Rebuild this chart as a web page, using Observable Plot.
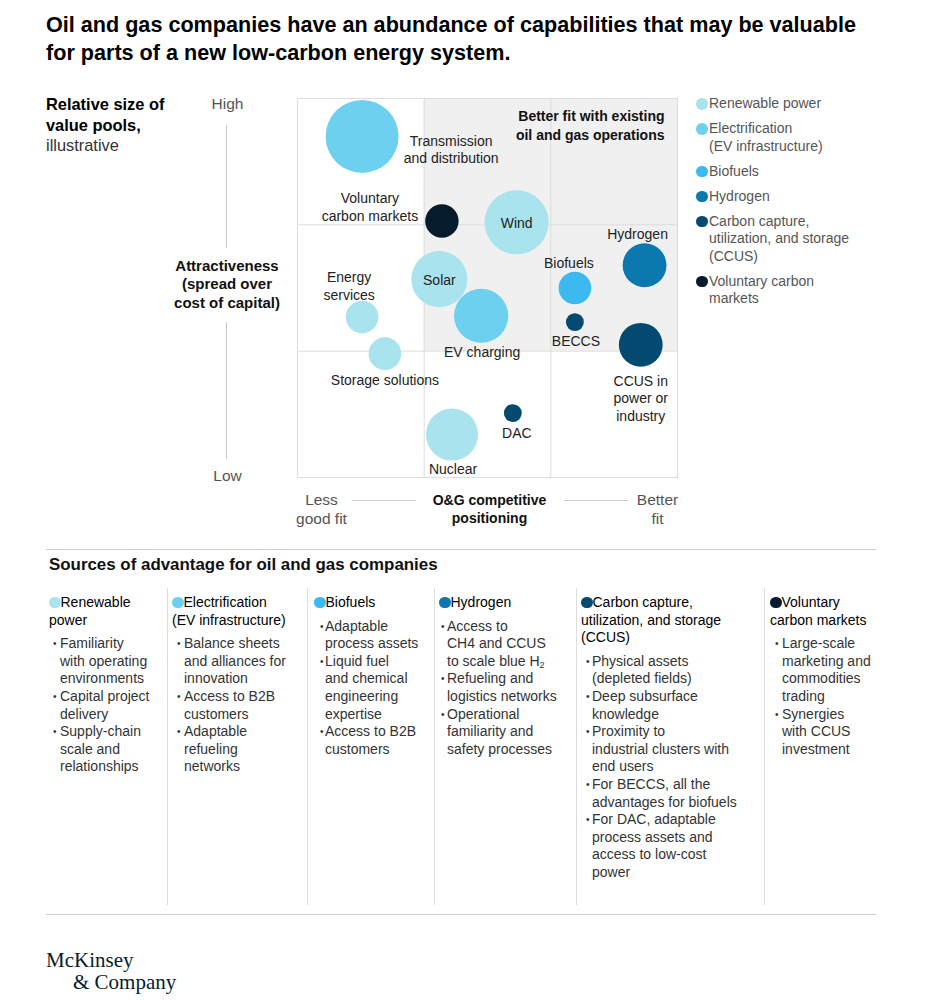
<!DOCTYPE html>
<html><head><meta charset="utf-8">
<script src="https://cdn.jsdelivr.net/npm/d3@7"></script>
<script src="https://cdn.jsdelivr.net/npm/@observablehq/plot@0.6"></script>
<style>
body{margin:0;background:#fff;font-family:"Liberation Sans",Arial,sans-serif;color:#222;}
#page{position:relative;width:936px;height:1000px;overflow:hidden;background:#fff;}
.abs{position:absolute;white-space:nowrap;}
#title{left:46px;top:11px;font-size:21.6px;font-weight:bold;line-height:28px;color:#000;}
#sizeNote{left:46px;top:94px;font-size:16.4px;line-height:20.5px;color:#000;}
#sizeNote b{font-weight:bold;}
#sizeNote span{color:#333;}
.vline{position:absolute;left:226px;width:1px;background:#c8c8c8;}
.hline{position:absolute;top:500px;height:1px;background:#ccc;}
#attr{left:147px;width:160px;top:256.5px;text-align:center;font-size:15px;font-weight:bold;line-height:18.5px;color:#111;}
#chart{position:absolute;left:0;top:80px;}
#legend{position:absolute;left:696px;top:95px;font-size:14px;line-height:17.5px;color:#555;}
.li{position:relative;padding-left:13px;margin-bottom:7.5px;white-space:nowrap;}
.li i{position:absolute;left:0;top:3px;width:11.5px;height:11.5px;border-radius:50%;}
#rule1{position:absolute;left:46px;top:549px;width:830px;height:1px;background:#ccc;}
#rule2{position:absolute;left:46px;top:914px;width:830px;height:1px;background:#ccc;}
#sources{left:49px;top:555px;font-size:16.9px;font-weight:bold;line-height:20px;color:#111;}
.col{position:absolute;top:588px;height:317px;box-sizing:border-box;padding-top:6px;font-size:14px;line-height:17.6px;}
.col.sep{border-left:1px solid #ddd;}
.hd{color:#000;white-space:nowrap;}
.hd i{display:inline-block;width:11.5px;height:11.5px;border-radius:50%;vertical-align:-1px;}
.bl{margin-top:6px;color:#333;}
.b{position:relative;white-space:nowrap;}
.b span.dot{position:absolute;font-size:10px;color:#333;}
sub{font-size:9px;vertical-align:-2px;line-height:0;}
#logo{left:46px;top:950px;font-family:"Liberation Serif","Times New Roman",serif;font-size:21px;line-height:21.5px;color:#051C2C;}
#logo div+div{padding-left:27px;}
</style></head>
<body><div id="page">
<div id="title" class="abs">Oil and gas companies have an abundance of capabilities that may be valuable<br>for parts of a new low-carbon energy system.</div>
<div id="sizeNote" class="abs"><b>Relative size of<br>value pools,</b><br><span>illustrative</span></div>
<div class="vline" style="top:125px;height:123px"></div>
<div class="vline" style="top:322px;height:137px"></div>
<div id="attr" class="abs">Attractiveness<br>(spread over<br>cost of capital)</div>
<div class="hline" style="left:352px;width:64px"></div>
<div class="hline" style="left:564px;width:64px"></div>
<div id="chart"></div>
<div id="legend"></div>
<div id="rule1"></div>
<div id="sources" class="abs">Sources of advantage for oil and gas companies</div>
<div id="cols"></div>
<div id="rule2"></div>
<div id="logo" class="abs"><div>McKinsey</div><div>&amp; Company</div></div>
</div>
<script>
// ---- Categories (legend) ----
const categories = ["Renewable power", "Electrification\n(EV infrastructure)", "Biofuels", "Hydrogen", "Carbon capture,\nutilization, and storage\n(CCUS)", "Voluntary carbon\nmarkets"];
const categoryColors = ["#A9E3EE", "#6ED0EF", "#3CB9F0", "#0B78B0", "#044A70", "#061C2C"];

// ---- Opportunities (bubbles) ----
const opportunities = ["Transmission\nand distribution", "Voluntary\ncarbon markets", "Wind", "Hydrogen", "Solar", "Biofuels", "EV charging", "Energy\nservices", "BECCS", "CCUS in\npower or\nindustry", "Storage solutions", "DAC", "Nuclear"];
const opportunityCategory = [1, 5, 0, 3, 0, 2, 1, 0, 4, 4, 0, 4, 0];
const competitivePositioning = [0.51, 1.14, 1.73, 2.74, 1.12, 2.19, 1.45, 0.51, 2.19, 2.71, 0.69, 1.70, 1.22]; // 0 = less good fit, 3 = better fit
const attractiveness = [2.70, 2.03, 2.02, 1.68, 1.57, 1.50, 1.28, 1.27, 1.23, 1.05, 0.98, 0.51, 0.34]; // 0 = low, 3 = high
const valuePoolSize = [100, 21, 77, 36, 59, 20, 55, 20, 6, 36, 20, 6, 51]; // relative, illustrative

// ---- Zone & tick labels ----
const betterFitZone = [{x1: 1, x2: 3, y1: 1, y2: 3, label: "Better fit with existing\noil and gas operations"}];
const gridBreaks = [1, 2];
const yTickLabels = ["Low", "High"];
const xTickLabels = ["Less\ngood fit", "Better\nfit"];
const xAxisTitle = "O&G competitive\npositioning";

// ---- Sources of advantage ----
const advantageHeaders = ["Renewable\npower", "Electrification\n(EV infrastructure)", "Biofuels", "Hydrogen", "Carbon capture,\nutilization, and storage\n(CCUS)", "Voluntary\ncarbon markets"];
const advantageBullets = [
  ["Familiarity\nwith operating\nenvironments", "Capital project\ndelivery", "Supply-chain\nscale and\nrelationships"],
  ["Balance sheets\nand alliances for\ninnovation", "Access to B2B\ncustomers", "Adaptable\nrefueling\nnetworks"],
  ["Adaptable\nprocess assets", "Liquid fuel\nand chemical\nengineering\nexpertise", "Access to B2B\ncustomers"],
  ["Access to\nCH4 and CCUS\nto scale blue H\u2082", "Refueling and\nlogistics networks", "Operational\nfamiliarity and\nsafety processes"],
  ["Physical assets\n(depleted fields)", "Deep subsurface\nknowledge", "Proximity to\nindustrial clusters with\nend users", "For BECCS, all the\nadvantages for biofuels", "For DAC, adaptable\nprocess assets and\naccess to low-cost\npower"],
  ["Large-scale\nmarketing and\ncommodities\ntrading", "Synergies\nwith CCUS\ninvestment"]
];

// ---- Label placement (style only: pixel offsets from bubble centre) ----
const labelOffsets = [[89, 12.5], [-72, -14.5], [0, 0], [-7, -32], [0, 0], [-6, -26], [1, 35.5], [-13, -31.5], [1, 18], [0, 53], [0, 26], [4, 19], [1, 34]];

const points = opportunities.map((name, i) => ({
  name,
  category: categories[opportunityCategory[i]],
  x: competitivePositioning[i],
  y: attractiveness[i],
  size: valuePoolSize[i]
}));

const labelMarks = points.map((p, i) => Plot.text([p], {
  x: "x", y: "y", text: "name",
  dx: labelOffsets[i][0], dy: labelOffsets[i][1],
  fontSize: 14, fill: "#222", lineHeight: 1.25
}));

const chart = Plot.plot({
  width: 936, height: 460,
  marginLeft: 297, marginRight: 259, marginTop: 18, marginBottom: 63,
  style: {fontFamily: "'Liberation Sans', Arial, sans-serif", fontSize: "14px", color: "#222", background: "transparent", overflow: "visible"},
  x: {domain: [0, 3], axis: null},
  y: {domain: [0, 3], axis: null},
  r: {domain: [0, 100], range: [0, 36.5]},
  color: {domain: categories, range: categoryColors},
  marks: [
    Plot.rect(betterFitZone, {x1: "x1", x2: "x2", y1: "y1", y2: "y2", fill: "#f0f0f0"}),
    Plot.gridX(gridBreaks, {stroke: "#dcdcdc", strokeOpacity: 1}),
    Plot.gridY(gridBreaks, {stroke: "#dcdcdc", strokeOpacity: 1}),
    Plot.frame({stroke: "#dcdcdc"}),
    Plot.text(betterFitZone, {text: "label", frameAnchor: "top-right", dx: -13, dy: 10, textAnchor: "end", lineAnchor: "top", fontWeight: "bold", fontSize: 14, fill: "#111", lineHeight: 1.3}),
    Plot.dot(points, {x: "x", y: "y", r: "size", fill: "category"}),
    ...labelMarks,
    Plot.axisY([3], {tickSize: 0, tickFormat: () => yTickLabels[1], textAnchor: "middle", dx: -61, dy: 6, fontSize: 15.5, color: "#555", label: null}),
    Plot.axisY([0], {tickSize: 0, tickFormat: () => yTickLabels[0], textAnchor: "middle", dx: -61, dy: -1, fontSize: 15.5, color: "#555", label: null}),
    Plot.axisX([0], {tickSize: 0, tickFormat: () => xTickLabels[0], textAnchor: "middle", dx: 24, dy: 6, fontSize: 15.5, lineHeight: 1.17, color: "#555", label: null}),
    Plot.axisX([3], {tickSize: 0, tickFormat: () => xTickLabels[1], textAnchor: "middle", dx: -20, dy: 6, fontSize: 15.5, lineHeight: 1.17, color: "#555", label: null}),
    Plot.text([xAxisTitle], {frameAnchor: "bottom", text: d => d, dx: 2, dy: 15, lineAnchor: "top", fontWeight: "bold", fontSize: 14, fill: "#111", lineHeight: 1.28})
  ]
});
document.getElementById("chart").appendChild(chart);

// Legend
const legend = document.getElementById("legend");
categories.forEach((c, i) => {
  const d = document.createElement("div");
  d.className = "li";
  d.innerHTML = `<i style="background:${categoryColors[i]}"></i>` + c.split("\n").join("<br>");
  legend.appendChild(d);
});

// Sources columns (layout)
const colLeft = [46, 167, 307, 434, 576, 764];
const colRight = [167, 307, 434, 576, 764, 880];
const colPad = [3, 5, 7, 5, 5, 6];
const bulletDotX = [4, 5, 6, 2, 5, 5];
const bulletTextX = [11, 12, 11, 8, 11, 12];
const cols = document.getElementById("cols");
advantageHeaders.forEach((h, i) => {
  const col = document.createElement("div");
  col.className = "col" + (i > 0 ? " sep" : "");
  col.style.left = colLeft[i] + "px";
  col.style.width = (colRight[i] - colLeft[i]) + "px";
  col.style.paddingLeft = (colPad[i] - (i > 0 ? 1 : 0)) + "px";
  let html = `<div class="hd"><i style="background:${categoryColors[i]}"></i>` + h.split("\n").join("<br>") + `</div><div class="bl">`;
  advantageBullets[i].forEach(b => {
    const t = b.replace("H\u2082", "H<sub>2</sub>").split("\n").join("<br>");
    html += `<div class="b" style="padding-left:${bulletTextX[i]}px"><span class="dot" style="left:${bulletDotX[i]}px">•</span>${t}</div>`;
  });
  html += `</div>`;
  col.innerHTML = html;
  cols.appendChild(col);
});
</script>
</body></html>
